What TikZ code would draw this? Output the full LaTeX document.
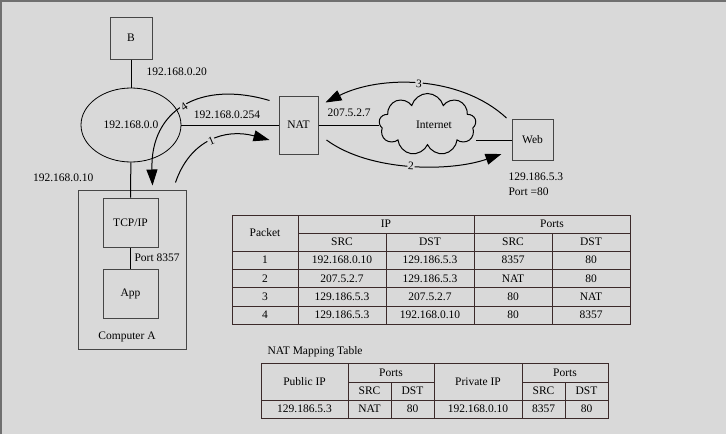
\documentclass[tikz,border=0pt]{standalone}
\usepackage{fontspec}
\setmainfont{Liberation Serif}
\definecolor{bggray}{RGB}{217,217,217}
\definecolor{framegray}{RGB}{112,112,112}
\definecolor{boxgray}{RGB}{70,70,70}
\definecolor{rulebrown}{RGB}{60,42,42}
\usetikzlibrary{arrows.meta,shapes.geometric,shapes.symbols,calc}

\begin{document}
\begin{tikzpicture}[x=1pt,y=-1pt,
  font=\fontsize{11.5}{13}\selectfont,
  box/.style={draw=boxgray, line width=1pt, inner sep=0pt},
  wire/.style={draw=black, line width=1pt},
  flow/.style={black, line width=1pt, -{Triangle[length=16pt,width=11pt]}},
  num/.style={fill=bggray, inner sep=0.8pt, sloped},
  tabline/.style={draw=rulebrown, line width=0.9pt}]
  % background
  \fill[bggray] (0,0) rectangle (726,434);
  \useasboundingbox (0,0) rectangle (726,434);
  \draw[framegray, line width=2pt] (1,434) -- (1,1) -- (726,1);

  % network
  \node[box, minimum width=42pt, minimum height=42pt] (B) at (131,38) {B};
  \node[draw=black, line width=0.8pt, ellipse, minimum width=100pt, minimum height=74pt, inner sep=0pt] (lan) at (131,125) {192.168.0.0};
  \node[box, minimum width=39pt, minimum height=58pt] (nat) at (298.5,125) {NAT};
  \node[cloud, cloud puffs=9, cloud ignores aspect, draw=black, line width=1pt, minimum width=97pt, minimum height=62pt, inner sep=0pt] (net) at (427.5,124.5) {};
  \node (netlbl) at (434,125) {Internet};
  \node[box, minimum width=41pt, minimum height=41pt] (web) at (532.5,140) {Web};
  \node[box, minimum width=108pt, minimum height=159pt] (compA) at (132,269.5) {};
  \node[box, minimum width=55pt, minimum height=49pt] (tcp) at (130.5,222.5) {TCP/IP};
  \node[box, minimum width=55pt, minimum height=49pt] (app) at (130.5,293.5) {App};
  \node (compAlbl) at (127,337) {Computer A};

  \draw[wire] (B) -- (lan);
  \draw[wire] (lan) -- (nat);
  \draw[wire] (lan) -- (tcp);
  \draw[wire] (tcp) -- (app);
  \draw[wire] (nat.east) -- (nat.east -| net.west);
  \draw[wire] (web.west) -- (web.west -| net.east);

  \node[anchor=west] (ipB) at (143,72) {192.168.0.20};
  \node[anchor=south] (ipGw) at (227,122) {192.168.0.254};
  \node[anchor=west] (ipPub) at (324,113) {207.5.2.7};
  \node[anchor=east] (ipA) at (97,178) {192.168.0.10};
  \node[anchor=west] (portA) at (131,258) {Port 8357};
  \node[anchor=west] (ipWeb) at (505,177) {129.186.5.3};
  \node[anchor=west] (portWeb) at (505,192) {Port =80};

  % packets
  \draw[flow] ($(compA.north east)+(-11,-7)$) .. controls (190,140) and (225,128) .. ($(nat.west)+(-9,15)$)
    node[num, pos=0.5] {1};
  \draw[flow] ($(nat.east)+(8,15)$) .. controls (370,172) and (450,172) .. ($(web.west)+(-10,14)$)
    node[num, pos=0.5] {2};
  \draw[flow] ($(web.north west)+(-5,-1)$) .. controls (460,75) and (380,75) .. ($(nat.north east)+(7,7)$)
    node[num, pos=0.5] {3};
  \draw[flow] ($(nat.north west)+(-9,5)$) .. controls (200,80) and (150,110) .. ($(tcp.north east)+(-6,-12)$)
    node[num, pos=0.5] {4};

  % packet table
  \draw[tabline] (232,215) rectangle (630,324);
  \draw[tabline] (298,233) -- (630,233);
  \foreach \y in {251,269.5,287.5,306}
    \draw[tabline] (232,\y) -- (630,\y);
  \foreach \x in {298,474}
    \draw[tabline] (\x,215) -- (\x,324);
  \foreach \x in {386,552}
    \draw[tabline] (\x,233) -- (\x,324);
  \node (hPkt) at (265,233) {Packet};
  \node (hIP) at (386,224) {IP};
  \node (hPorts) at (552,224) {Ports};
  \foreach \x/\t [count=\i] in {342/SRC,430/DST,513/SRC,591/DST}
    \node (hSub\i) at (\x,242) {\t};
  \foreach \n/\y/\a/\b/\c/\d in {1/260/192.168.0.10/129.186.5.3/8357/80,
      2/278.5/207.5.2.7/129.186.5.3/NAT/80,
      3/297/129.186.5.3/207.5.2.7/80/NAT,
      4/315/129.186.5.3/192.168.0.10/80/8357} {
    \node (pk\n) at (265,\y) {\n};
    \node (pkA\n) at (342,\y) {\a};
    \node (pkB\n) at (430,\y) {\b};
    \node (pkC\n) at (513,\y) {\c};
    \node (pkD\n) at (591,\y) {\d};
  }

  % mapping table
  \node[anchor=west] (mapTitle) at (264,352) {NAT Mapping Table};
  \draw[tabline] (261,363) rectangle (608,418);
  \draw[tabline] (261,400) -- (608,400);
  \draw[tabline] (348,382) -- (434,382);
  \draw[tabline] (522,382) -- (608,382);
  \foreach \x in {348,434,522}
    \draw[tabline] (\x,363) -- (\x,418);
  \foreach \x in {391,565}
    \draw[tabline] (\x,382) -- (\x,418);
  \node (mPub) at (304.5,381.5) {Public IP};
  \node (mPorts1) at (391,372.5) {Ports};
  \node (mPriv) at (478,381.5) {Private IP};
  \node (mPorts2) at (565,372.5) {Ports};
  \foreach \x/\t [count=\i] in {369.5/SRC,412.5/DST,543.5/SRC,586.5/DST}
    \node (mSub\i) at (\x,391) {\t};
  \foreach \x/\t [count=\i] in {304.5/129.186.5.3,369.5/NAT,412.5/80,478/192.168.0.10,543.5/8357,586.5/80}
    \node (mVal\i) at (\x,409) {\t};
\end{tikzpicture}
\end{document}
